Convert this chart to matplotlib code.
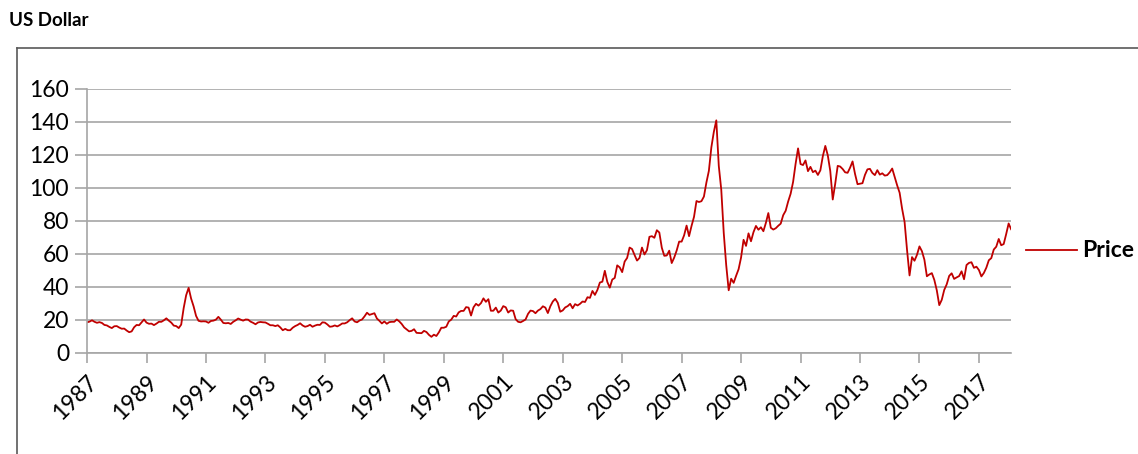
import matplotlib.pyplot as plt
from matplotlib.lines import Line2D
import numpy as np

# Brent price, monthly (series starts May 1987, ends Jun 2018)
start_year, start_month = 1987, 5
price = [
    18.6, 19.0, 19.8, 18.9, 18.3, 18.7, 18.2, 17.0,                         # 1987 May-Dec
    16.7, 15.8, 15.1, 16.2, 16.3, 15.4, 14.7, 14.8, 13.6, 12.6, 13.1, 15.6,  # 1988
    17.0, 16.8, 18.6, 20.3, 18.4, 17.7, 17.8, 16.9, 17.8, 18.9, 18.9, 19.8,  # 1989
    21.0, 19.6, 18.4, 16.6, 16.3, 15.1, 17.2, 27.2, 35.0, 39.5, 33.0, 28.3,  # 1990
    22.5, 19.5, 19.1, 19.2, 19.1, 18.3, 19.4, 19.6, 20.2, 21.9, 20.2, 18.2,  # 1991
    18.0, 18.2, 17.6, 18.9, 19.8, 20.9, 20.2, 19.6, 20.3, 20.2, 19.0, 18.3,  # 1992
    17.4, 18.5, 18.8, 18.6, 18.5, 17.7, 16.8, 16.8, 16.3, 16.8, 15.5, 13.8,  # 1993
    14.6, 13.8, 13.8, 15.3, 16.3, 17.0, 18.0, 16.7, 15.9, 16.3, 17.1, 15.9,  # 1994
    16.6, 17.1, 17.0, 18.6, 18.4, 17.3, 15.9, 16.1, 16.7, 16.1, 16.9, 17.9,  # 1995
    17.9, 18.6, 19.9, 21.0, 19.1, 18.6, 19.7, 20.3, 22.2, 24.4, 23.1, 23.6,  # 1996
    24.1, 20.9, 19.5, 17.9, 19.1, 17.7, 18.7, 18.9, 18.9, 20.3, 19.2, 17.6,  # 1997
    15.5, 14.3, 13.1, 13.4, 14.4, 12.2, 12.1, 12.0, 13.4, 12.7, 11.0, 9.8,   # 1998
    11.1, 10.3, 12.5, 15.3, 15.3, 15.9, 19.1, 20.2, 22.5, 22.1, 24.6, 25.5,  # 1999
    25.5, 27.8, 27.5, 22.7, 27.7, 29.8, 28.7, 30.2, 33.1, 31.0, 32.6, 25.6,  # 2000
    25.6, 27.5, 24.5, 25.7, 28.4, 27.7, 24.5, 25.8, 25.6, 20.5, 18.9, 18.6,  # 2001
    19.4, 20.3, 23.7, 25.7, 25.4, 24.1, 25.7, 26.6, 28.3, 27.5, 24.2, 28.3,  # 2002
    31.2, 32.8, 30.4, 25.0, 25.8, 27.6, 28.4, 29.8, 27.1, 29.6, 28.8, 29.8,  # 2003
    31.2, 30.9, 33.8, 33.4, 37.6, 35.2, 38.2, 42.7, 43.2, 49.8, 43.1, 39.6,  # 2004
    44.5, 45.5, 53.1, 51.9, 49.0, 55.4, 57.6, 63.9, 63.0, 59.4, 56.0, 57.6,  # 2005
    63.9, 59.7, 62.3, 70.4, 70.8, 69.8, 74.4, 73.0, 63.8, 58.9, 59.1, 62.0,  # 2006
    54.5, 57.8, 62.1, 67.5, 67.5, 71.3, 77.2, 70.8, 77.0, 82.5, 92.1, 91.5,  # 2007
    92.0, 94.8, 103.3, 110.4, 124.6, 134.0, 141.0, 113.4, 99.0, 72.8, 53.2, 38.0,  # 2008
    45.0, 42.5, 46.8, 50.8, 57.9, 68.6, 64.9, 72.5, 67.7, 73.2, 77.0, 74.7,  # 2009
    76.2, 73.8, 78.8, 84.8, 75.9, 74.8, 75.6, 77.1, 78.4, 83.5, 86.2, 91.8,  # 2010
    96.5, 103.7, 114.6, 124.0, 114.5, 113.9, 116.7, 110.2, 112.8, 109.6, 110.5, 107.9,  # 2011
    110.7, 119.3, 125.5, 119.8, 110.3, 93.0, 102.6, 113.4, 113.0, 111.5, 109.5, 109.2,  # 2012
    112.3, 116.1, 108.5, 102.3, 102.6, 102.9, 107.9, 111.3, 111.6, 109.1, 107.8, 110.8,  # 2013
    108.1, 108.9, 107.5, 107.8, 109.5, 111.8, 106.8, 101.6, 97.1, 87.4, 79.4, 62.3,  # 2014
    47.0, 58.1, 55.9, 59.5, 64.6, 61.7, 56.5, 46.5, 47.6, 48.4, 44.3, 38.0,  # 2015
    29.0, 32.2, 38.2, 41.6, 46.7, 48.3, 44.9, 45.8, 46.6, 49.5, 44.7, 53.3,  # 2016
    54.6, 55.0, 51.6, 52.3, 50.3, 46.4, 48.5, 51.7, 56.2, 57.5, 62.7, 64.4,  # 2017
    69.1, 65.3, 66.0, 72.0, 78.5, 75.0,                                      # 2018 Jan-Jun
]
tick_years = [1987, 1989, 1991, 1993, 1995, 1997, 1999, 2001, 2003, 2005,
              2007, 2009, 2011, 2013, 2015, 2017]
y_ticks = [0, 20, 40, 60, 80, 100, 120, 140, 160]

plt.rcParams['font.family'] = ['Lato', 'DejaVu Sans']

fig = plt.figure(figsize=(11.38, 4.54), dpi=100)
ax = fig.add_axes([0.0765, 0.2225, 0.812, 0.5815])

x = np.arange(len(price))
ax.plot(x, price, color='#c00000', lw=1.3)

ax.set_xlim(0, len(price) - 1)
ax.set_ylim(0, 160)
ax.set_yticks(y_ticks)
ax.set_xticks([(yr - start_year) * 12 for yr in tick_years])
ax.set_xticklabels([str(yr) for yr in tick_years], rotation=45, ha='right',
                   va='top', rotation_mode='anchor')

ax.grid(axis='y', color='#a6a6a6', lw=1.2)
ax.set_axisbelow(True)
for s in ['top', 'right']:
    ax.spines[s].set_visible(False)
for s in ['left', 'bottom']:
    ax.spines[s].set_color('#a6a6a6')
    ax.spines[s].set_linewidth(1.2)
ax.tick_params(axis='y', length=9, width=1.2, color='#a6a6a6', labelsize=16.5, pad=4)
ax.tick_params(axis='x', length=7, width=1.2, color='#a6a6a6', labelsize=16.5, pad=6)

# outer frame (left and top edges)
fig.add_artist(Line2D([0.015, 0.015], [0, 0.894], color='#595959', lw=1.2))
fig.add_artist(Line2D([0.015, 1.0], [0.894, 0.894], color='#595959', lw=1.2))

fig.text(0.008, 0.955, 'US Dollar', fontsize=13.5, fontweight='bold', va='center')

# legend
fig.add_artist(Line2D([0.902, 0.946], [0.449, 0.449], color='#c00000', lw=1.3))
fig.text(0.951, 0.449, 'Price', fontsize=16.5, fontweight='bold', va='center')

fig.savefig('out.png', dpi=100)
